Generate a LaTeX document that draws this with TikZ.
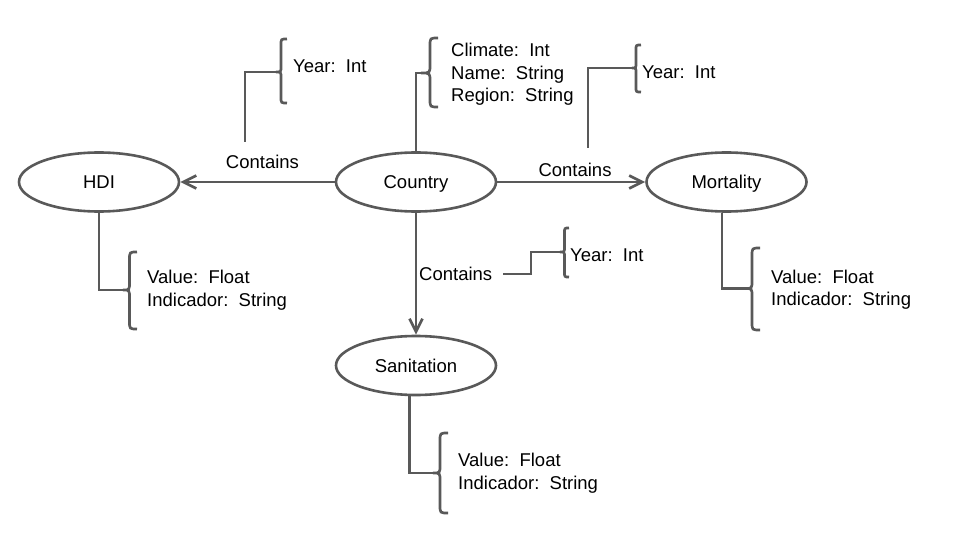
\documentclass[tikz,border=0pt]{standalone}
\usepackage{fontspec}
\setmainfont{Liberation Sans}
\usetikzlibrary{shapes.geometric,arrows.meta}
\definecolor{lc}{HTML}{595959}
\newcommand{\curlybr}[7]{%
  \draw[ln] (#3,#4) .. controls (#2,#4) .. (#2,#4+#7) -- (#2,#5-#7) .. controls (#2,#5) .. (#1,#5)
     .. controls (#2,#5) .. (#2,#5+#7) -- (#2,#6-#7) .. controls (#2,#6) .. (#3,#6);}
\begin{document}
\begin{tikzpicture}[x=1pt,y=-1pt,
  ent/.style={ellipse,draw=lc,line width=2.6pt,minimum width=160pt,minimum height=59pt,inner sep=0pt,text height=13pt,text depth=0pt,font=\fontsize{18.5}{22}\selectfont},
  lbl/.style={anchor=base west,inner sep=0pt,font=\fontsize{18.5}{22}\selectfont},
  clbl/.style={anchor=base,inner sep=0pt,font=\fontsize{18.5}{22}\selectfont},
  ln/.style={draw=lc,line width=2.7pt},
  arr/.style={ln,-{Straight Barb[length=13pt,width=13pt]}}]
\useasboundingbox (0,0) rectangle (960,540);
% entities
\node[ent] (hdi) at (99,182) {HDI};
\node[ent] (country) at (416,182) {Country};
\node[ent] (mort) at (726.5,182) {Mortality};
\node[ent] (san) at (416,365.5) {Sanitation};
% relations
\draw[arr] (country.west) -- (hdi.east);
\draw[arr] (country.east) -- (mort.west);
\draw[arr] (country.south) -- (san.north);
\node[clbl] (c1) at (262.5,168.3) {Contains};
\node[clbl] (c2) at (575,176) {Contains};
\node[lbl] (c3) at (419,280) {Contains};
% brace tips and free ends
\coordinate (tHDI) at (123,290);
\coordinate (tMort) at (745,288.5);
\coordinate (tSan) at (433,473);
\coordinate (tCountry) at (421,73);
\coordinate (tY1) at (276,72);
\coordinate (tY2) at (632,68);
\coordinate (tY3) at (560,252);
\coordinate (f1) at (245,142);
\coordinate (f2) at (588,148);
\coordinate (f3) at (503,274);
% connectors to braces
\draw[ln] (hdi.south) |- (tHDI);
\draw[ln] ([xshift=-4.5pt]mort.south) |- (tMort);
\draw[ln] ([xshift=-6.5pt]san.south) |- (tSan);
\draw[ln] (country.north) |- (tCountry);
\draw[ln] (f1) |- (tY1);
\draw[ln] (f2) |- (tY2);
\draw[ln] (f3) -- (531,274) |- (tY3);
% braces
\curlybr{123}{129.5}{137}{252}{290}{329}{8}
\curlybr{745}{752}{760}{248}{288.5}{330}{8}
\curlybr{433}{440}{448}{433}{473}{513}{8}
\curlybr{421}{430}{438}{38}{73}{107}{8}
\curlybr{276}{281}{287}{39}{72}{103}{6}
\curlybr{632}{636}{641}{45}{68}{92}{5}
\curlybr{560}{564.5}{569}{228}{252}{277}{5}
% attribute texts
\node[lbl] (yr1) at (293,72.5) {Year:~~Int};
\node[lbl] (ca1) at (451,56.7) {Climate:~~Int};
\node[lbl] (ca2) at (451,79.5) {Name:~~String};
\node[lbl] (ca3) at (451,102) {Region:~~String};
\node[lbl] (yr2) at (642,78.3) {Year:~~Int};
\node[lbl] (yr3) at (570,261.7) {Year:~~Int};
\node[lbl] (ha1) at (147,283) {Value:~~Float};
\node[lbl] (ha2) at (147,306) {Indicador:~~String};
\node[lbl] (ma1) at (771,283.5) {Value:~~Float};
\node[lbl] (ma2) at (771,305.5) {Indicador:~~String};
\node[lbl] (sa1) at (458,466.7) {Value:~~Float};
\node[lbl] (sa2) at (458,489) {Indicador:~~String};
\end{tikzpicture}
\end{document}
